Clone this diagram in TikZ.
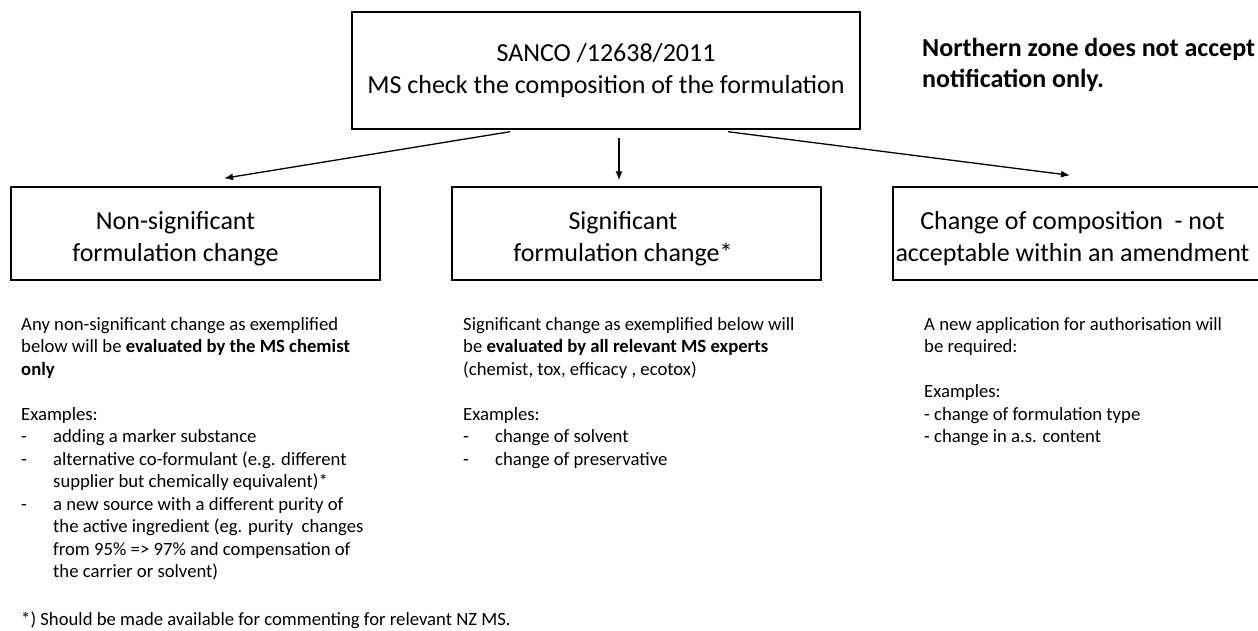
\documentclass[tikz,border=0pt]{standalone}
\usepackage{fontspec}
\setmainfont{Carlito}
\usetikzlibrary{positioning,calc,arrows.meta}

\newcommand\dashitem{\makebox[32pt][l]{-}}

\begin{document}
\begin{tikzpicture}[x=1pt,y=-1pt]
  \useasboundingbox (0,0) rectangle (1258,630);
  \begin{scope}[
    every node/.style={
      draw,
      line width=1.4pt,
      inner sep=0pt,
      minimum width=369pt,
      minimum height=93pt,
    },
    ]
    \node[minimum width=508pt,minimum height=117pt,align=center,
      font=\fontsize{26}{32}\selectfont](sanco) at (606,70.5)
      {SANCO /12638/2011\\MS check the composition of the formulation};
    \node(nonsig) at (195.5,233.5) {};
    \node(sig)    at (636.5,233.5) {};
    \node(newapp) at (1077.5,233.5) {};
  \end{scope}
  \begin{scope}[
    every node/.style={
      align=center,
      inner sep=0pt,
      font=\fontsize{26}{32}\selectfont,
    },
    ]
    \node(nonsig-label) at ([shift={(-20pt,-5.5pt)}]nonsig.center)
      {Non-significant\\formulation change};
    \node(sig-label) at ([shift={(-13.5pt,-5.5pt)}]sig.center)
      {Significant\\formulation change*};
    \node(newapp-label) at ([shift={(-5pt,-5.5pt)}]newapp.center)
      {Change of composition\ \ - not\\acceptable within an amendment};
  \end{scope}
  \begin{scope}[
    every path/.style={draw,line width=1.3pt,>={Latex[length=9pt,width=7pt]}},
    ]
    \draw[->] ([shift={(-96pt,-2pt)}]sanco.south) -- ([shift={(28.5pt,8pt)}]nonsig.north);
    \draw[->] ([shift={(13pt,-8pt)}]sanco.south)  -- ([shift={(-17.5pt,6pt)}]sig.north);
    \draw[->] ([shift={(122pt,-2pt)}]sanco.south) -- ([shift={(-7.5pt,11pt)}]newapp.north);
  \end{scope}
  \node[anchor=north west,inner sep=0pt,align=left,
    font=\fontsize{26}{31}\selectfont\bfseries](nz-note) at (922,38)
    {Northern zone does not accept\\notification only.};
  \begin{scope}[
    every node/.style={
      anchor=north west,
      inner sep=0pt,
      align=left,
      font=\fontsize{18.7}{22.5}\selectfont,
    },
    ]
    \node(nonsig-text) at (21,317)
      {Any non-significant change as exemplified\\
       below will be \textbf{evaluated by the MS chemist}\\
       \textbf{only}\\[22.5pt]
       Examples:\\
       \dashitem adding a marker substance\\
       \dashitem alternative co-formulant (e.g. different\\
       \hspace*{32pt}supplier but chemically equivalent)*\\
       \dashitem a new source with a different purity of\\
       \hspace*{32pt}the active ingredient (eg. purity\ \ changes\\
       \hspace*{32pt}from 95\% => 97\% and compensation of\\
       \hspace*{32pt}the carrier or solvent)};
    \node(sig-text) at (463,317)
      {Significant change as exemplified below will\\
       be \textbf{evaluated by all relevant MS experts}\\
       (chemist, tox, efficacy , ecotox)\\[22.5pt]
       Examples:\\
       \dashitem change of solvent\\
       \dashitem change of preservative};
    \node(newapp-text) at (924,317)
      {A new application for authorisation will\\
       be required:\\[22.5pt]
       Examples:\\
       - change of formulation type\\
       - change in a.s. content};
    \node(footnote) at (21,612)
      {*) Should be made available for commenting for relevant NZ MS.};
  \end{scope}
\end{tikzpicture}
\end{document}
